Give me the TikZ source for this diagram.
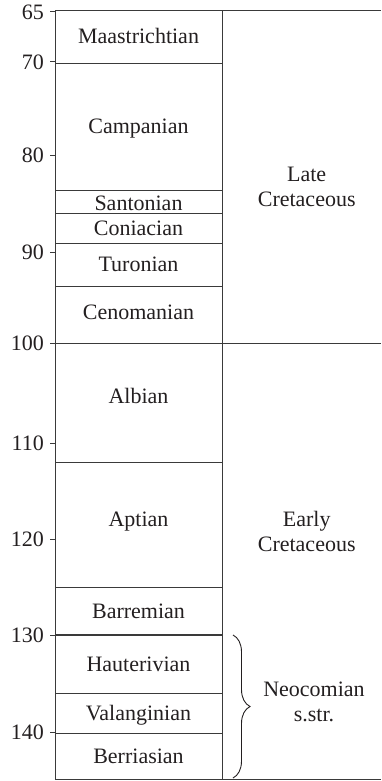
\documentclass[tikz,border=0pt]{standalone}
\usepackage{fontspec}
\setmainfont{Liberation Serif}
\usetikzlibrary{decorations.pathreplacing}
\definecolor{ink}{HTML}{231F20}
\definecolor{rule}{HTML}{3A3A3A}
\begin{document}
\begin{tikzpicture}[x=1pt,y=-1pt,
  every node/.style={text=ink,font=\fontsize{22}{25}\selectfont,inner sep=0pt},
  frame/.style={draw=rule,line width=1pt},
  tickmark/.style={draw=rule,line width=1pt},
  agelabel/.style={anchor=east},
  stagelabel/.style={anchor=base},
  epochlabel/.style={align=center,anchor=center}]
\useasboundingbox (0,0) rectangle (381,781);

% outer frame and column divider
\draw[frame] (55,11) -- (381,11);
\draw[frame] (55,11) -- (55,779);
\draw[frame] (222,11) -- (222,779);
\draw[frame] (55,779) -- (381,779);
\draw[frame] (55,343) -- (381,343);

% stage boundaries
\foreach \y in {64,190,213.7,243.3,286.7,462.3,587.7,693.3,733.3}
  \draw[frame] (55,\y) -- (222,\y);
\draw[draw=rule,line width=1.8pt] (55,635) -- (222,635);

% age axis ticks and labels
\foreach \y/\age in {12/65,62/70,155.7/80,252.7/90,343.3/100,443.3/110,539.3/120,635/130,732.7/140}{
  \draw[tickmark] (50,\y) -- (55,\y);
  \node[agelabel] (age\age) at (44,\y) {\age};
}

% stages
\node[stagelabel] (maas) at (138.5,43.3)  {Maastrichtian};
\node[stagelabel] (camp) at (138.5,133)   {Campanian};
\node[stagelabel] (sant) at (138.5,210)   {Santonian};
\node[stagelabel] (coni) at (138.5,235)   {Coniacian};
\node[stagelabel] (turo) at (138.5,271.7) {Turonian};
\node[stagelabel] (ceno) at (138.5,319.3) {Cenomanian};
\node[stagelabel] (albi) at (138.5,403.3) {Albian};
\node[stagelabel] (apti) at (138.5,526.7) {Aptian};
\node[stagelabel] (barr) at (138.5,618.3) {Barremian};
\node[stagelabel] (haut) at (138.5,671)   {Hauterivian};
\node[stagelabel] (vala) at (138.5,720)   {Valanginian};
\node[stagelabel] (berr) at (138.5,763.3) {Berriasian};

% epochs
\node[epochlabel] (late)  at (306.7,186.7) {Late\\Cretaceous};
\node[epochlabel] (early) at (306.7,531.7) {Early\\Cretaceous};

% Neocomian brace
\coordinate (bracetop) at (233,635);
\coordinate (bracebot) at (233,778);
\draw[draw=ink,line width=0.9pt,decorate,decoration={brace,amplitude=17pt}]
  (bracetop) -- (bracebot);
\node[epochlabel] (neoc) at (314,701.7) {Neocomian\\s.str.};
\end{tikzpicture}
\end{document}
